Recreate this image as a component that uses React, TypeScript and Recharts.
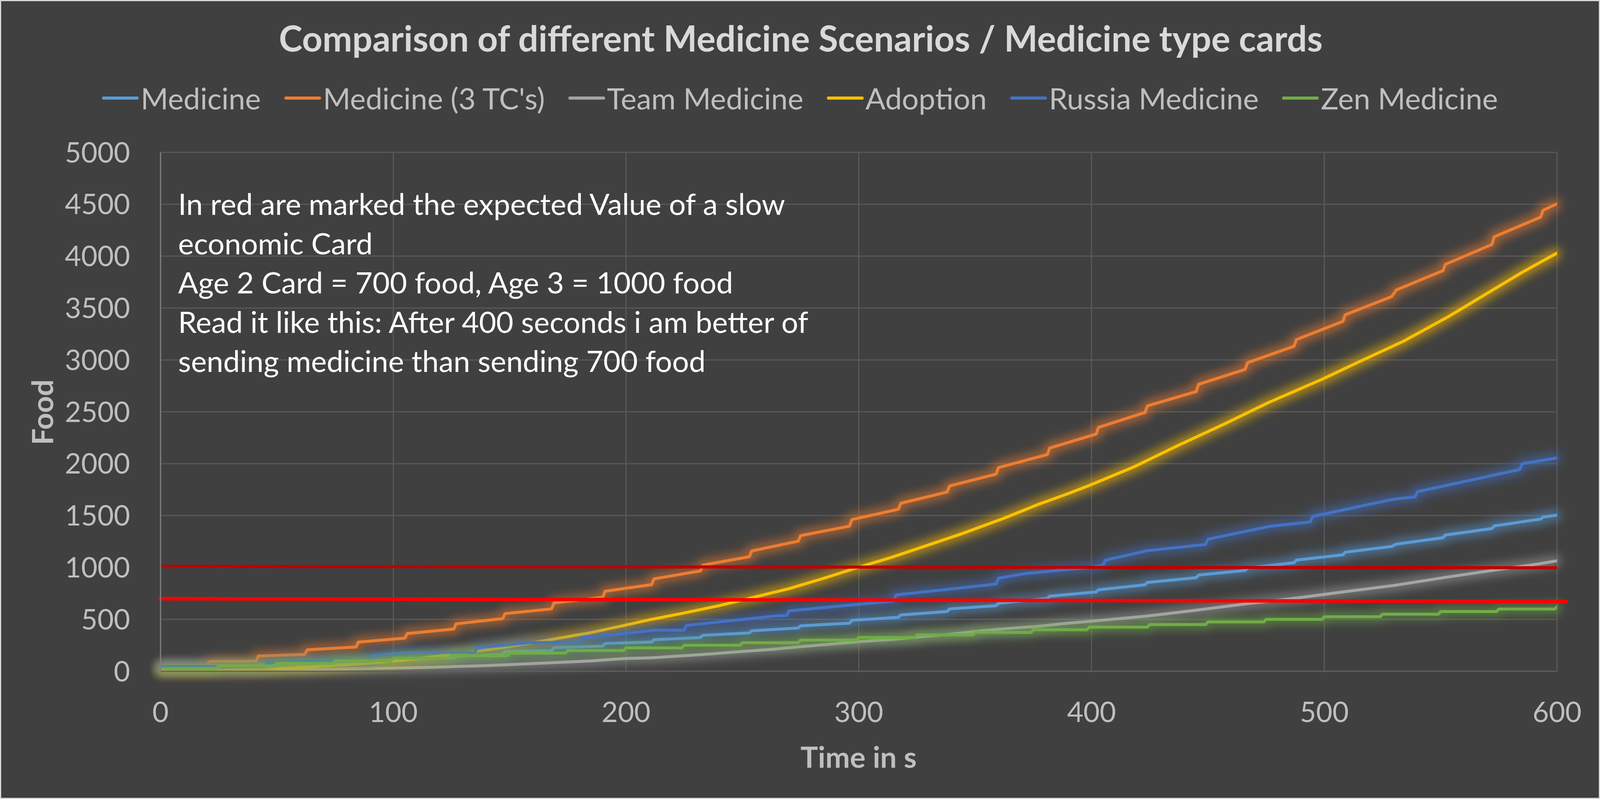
import React from 'react';
import { LineChart, Line, XAxis, YAxis, CartesianGrid, ReferenceLine } from 'recharts';

const W = 4096;
const H = 2045;

const xTicks = [0, 100, 200, 300, 400, 500, 600];
const yTicks = [0, 500, 1000, 1500, 2000, 2500, 3000, 3500, 4000, 4500, 5000];

const chartTitle = 'Comparison of different Medicine Scenarios / Medicine type cards';
const xTitle = 'Time in s';
const yTitle = 'Food';
const noteLines = [
  'In red are marked the expected Value of a slow',
  'economic Card',
  'Age 2 Card = 700 food, Age 3 = 1000 food',
  'Read it like this: After 400 seconds i am better of',
  'sending medicine than sending 700 food',
];

const seriesNames = ['Medicine', "Medicine (3 TC's)", 'Team Medicine', 'Adoption', 'Russia Medicine', 'Zen Medicine'];
const seriesColors = ['#5B9BD5', '#ED7D31', '#A5A5A5', '#FFC000', '#4472C4', '#70AD47'];

// [time in s, food]
const medicine: [number, number][] = [
  [0, 45], [20, 45], [21, 52], [41, 54], [42, 62], [62, 66], [63, 76], [84, 92], [85, 99], [105, 105],
  [106, 112], [126, 130], [127, 145], [147, 160], [148, 190], [168, 198], [169, 228], [190, 243], [191, 268],
  [211, 281], [212, 304], [232, 325], [233, 346], [253, 369], [254, 390], [274, 417], [275, 438], [296, 463],
  [297, 491], [317, 520], [318, 542], [338, 576], [339, 601], [359, 632], [360, 655], [381, 701], [382, 723],
  [402, 764], [403, 785], [423, 833], [424, 856], [445, 902], [446, 927], [466, 971], [467, 994], [487, 1046],
  [488, 1071], [508, 1122], [509, 1147], [529, 1203], [531, 1225], [551, 1287], [552, 1312], [572, 1375],
  [573, 1400], [593, 1467], [594, 1486], [600, 1504],
];

const medicine3TC: [number, number][] = [
  [0, 50], [20, 50], [21, 93], [41, 96], [42, 146], [62, 162], [63, 206], [84, 233], [85, 281], [105, 319],
  [106, 363], [126, 407], [127, 457], [147, 507], [148, 555], [168, 601], [169, 658], [190, 714], [191, 771],
  [211, 835], [212, 890], [232, 967], [233, 1022], [253, 1104], [254, 1159], [274, 1253], [275, 1307],
  [296, 1398], [297, 1461], [317, 1561], [318, 1618], [338, 1728], [339, 1785], [359, 1900], [360, 1962],
  [381, 2088], [382, 2150], [402, 2286], [403, 2350], [423, 2494], [424, 2557], [445, 2695], [446, 2765],
  [466, 2909], [467, 2973], [487, 3132], [488, 3196], [508, 3372], [509, 3435], [529, 3611], [531, 3675],
  [551, 3860], [552, 3921], [572, 4112], [573, 4186], [593, 4377], [594, 4441], [600, 4505],
];

const teamMedicine: [number, number][] = [
  [0, 0], [25, 0], [38, 6], [64, 16], [89, 26], [115, 38], [140, 55], [166, 80], [185, 100], [199, 122],
  [211, 130], [224, 149], [237, 168], [250, 191], [263, 212], [275, 237], [288, 262], [301, 287], [314, 306],
  [326, 331], [339, 356], [352, 388], [365, 413], [377, 432], [390, 463], [399, 480], [424, 532], [445, 588],
  [467, 651], [489, 708], [508, 764], [530, 827], [553, 908], [572, 971], [592, 1034], [600, 1065],
];

const adoption: [number, number][] = [
  [0, 0], [23, 5], [46, 22], [64, 42], [89, 78], [108, 116], [127, 165], [147, 228], [166, 298], [185, 372],
  [199, 440], [211, 500], [224, 557], [240, 632], [254, 708], [270, 796], [285, 896], [300, 1003], [314, 1097],
  [329, 1210], [344, 1323], [362, 1471], [377, 1607], [390, 1712], [399, 1790], [418, 1967], [437, 2174],
  [457, 2382], [476, 2589], [499, 2813], [514, 2972], [534, 3180], [553, 3413], [572, 3669], [585, 3844],
  [600, 4030],
];

const russiaMedicine: [number, number][] = [
  [0, 46], [45, 46], [46, 83], [60, 96], [74, 99], [90, 99], [91, 149], [106, 181], [135, 181], [136, 225],
  [159, 277], [180, 277], [181, 319], [200, 365], [212, 395], [225, 395], [226, 442], [265, 535], [269, 537],
  [270, 582], [315, 677], [316, 735], [359, 840], [360, 896], [371, 940], [399, 1000], [405, 1022], [406, 1071],
  [424, 1162], [449, 1222], [450, 1272], [477, 1398], [494, 1438], [495, 1492], [530, 1659], [539, 1680],
  [540, 1730], [584, 1944], [585, 1999], [600, 2056],
];

const zenMedicine: [number, number][] = [
  [0, 25], [24, 25], [25, 50], [49, 50], [50, 75], [74, 75], [75, 100], [99, 100], [100, 125], [124, 125],
  [125, 150], [149, 150], [150, 175], [174, 175], [175, 200], [199, 200], [200, 225], [224, 225], [225, 250],
  [249, 250], [250, 275], [274, 275], [275, 300], [299, 300], [300, 325], [324, 325], [325, 350], [349, 350],
  [350, 375], [374, 375], [375, 400], [398, 400], [399, 425], [424, 425], [425, 450], [449, 450], [450, 475],
  [474, 475], [475, 500], [499, 500], [500, 525], [524, 525], [525, 550], [549, 550], [550, 575], [574, 575],
  [575, 600], [599, 600], [600, 620],
];

// red marker lines (drawn shapes in the original)
const age3Line: [number, number][] = [[0, 1010], [600, 997]];
const age2Line: [number, number][] = [[-0.8, 699], [604.6, 672]];

const seriesPoints = [medicine, medicine3TC, teamMedicine, adoption, russiaMedicine, zenMedicine];

const FONT = 'Lato, "Open Sans", sans-serif';

const toRows = (pts: [number, number][]) => pts.map(([t, v]) => ({ t, v }));

export default function App() {
  const series = seriesNames.map((name, i) => ({ name, color: seriesColors[i], data: toRows(seriesPoints[i]) }));
  return (
    <div style={{ position: 'fixed', left: 0, top: 0, width: W, height: H, background: '#404040', overflow: 'hidden' }}>
      <style>{`.glow-line { filter: url(#glow); }`}</style>
      <svg width={0} height={0} style={{ position: 'absolute' }}>
        <defs>
          <filter id="glow" filterUnits="userSpaceOnUse" x={-200} y={-200} width={4600} height={2500} colorInterpolationFilters="sRGB">
            <feMorphology in="SourceGraphic" operator="dilate" radius={9} result="d" />
            <feGaussianBlur in="d" stdDeviation={12} result="b" />
            <feComponentTransfer in="b" result="g">
              <feFuncA type="linear" slope={0.55} />
            </feComponentTransfer>
            <feMerge>
              <feMergeNode in="g" />
              <feMergeNode in="SourceGraphic" />
            </feMerge>
          </filter>
        </defs>
      </svg>
      <div style={{ position: 'absolute', left: 0, top: 0 }}>
        <LineChart width={W} height={H} margin={{ top: 390, right: 110, bottom: 0, left: 0 }}>
          <CartesianGrid stroke="#595959" strokeWidth={3} />
          <XAxis
            type="number"
            dataKey="t"
            domain={[0, 600]}
            ticks={xTicks}
            allowDataOverflow
            height={327}
            tickLine={false}
            tickSize={0}
            tickMargin={79}
            axisLine={{ stroke: '#5E5E5E', strokeWidth: 3 }}
            tick={{ fill: '#BFBFBF', fontSize: 72, fontFamily: FONT }}
          />
          <YAxis
            type="number"
            domain={[0, 5000]}
            ticks={yTicks}
            allowDataOverflow
            width={411}
            tickLine={false}
            tickSize={0}
            tickMargin={78}
            axisLine={{ stroke: '#7F7F7F', strokeWidth: 3 }}
            tick={{ fill: '#BFBFBF', fontSize: 72, fontFamily: FONT }}
          />
          {series.map((s) => (
            <Line
              key={s.name}
              name={s.name}
              data={s.data}
              dataKey="v"
              type="linear"
              stroke={s.color}
              strokeWidth={7.5}
              strokeLinejoin="round"
              strokeLinecap="round"
              dot={false}
              activeDot={false}
              className="glow-line"
              isAnimationActive={false}
            />
          ))}
          <ReferenceLine
            segment={age3Line.map(([x, y]) => ({ x, y }))}
            stroke="#C00000"
            strokeWidth={8}
            ifOverflow="visible"
          />
          <ReferenceLine
            segment={age2Line.map(([x, y]) => ({ x, y }))}
            stroke="#FF0000"
            strokeWidth={9}
            ifOverflow="visible"
          />
        </LineChart>
      </div>
      <svg width={W} height={H} style={{ position: 'absolute', left: 0, top: 0, pointerEvents: 'none' }}>
        <text x={2050} y={132} textAnchor="middle" fill="#D9D9D9" fontFamily={FONT} fontWeight="bold" fontSize={91}>
          {chartTitle}
        </text>
        <text x={2198} y={1965} textAnchor="middle" fill="#BFBFBF" fontFamily={FONT} fontWeight="bold" fontSize={75}>
          {xTitle}
        </text>
        <text x={136} y={1055} textAnchor="middle" fill="#BFBFBF" fontFamily={FONT} fontWeight="bold" fontSize={75} transform="rotate(-90 136 1055)">
          {yTitle}
        </text>
        {noteLines.map((line, i) => (
          <text key={i} x={456} y={550 + i * 100.5} fill="#FFFFFF" fontFamily={FONT} fontSize={76}>
            {line}
          </text>
        ))}
      </svg>
      <div
        style={{
          position: 'absolute', left: 0, top: 216, width: W, height: 70, display: 'flex',
          justifyContent: 'center', alignItems: 'center', fontFamily: FONT, fontSize: 76, color: '#BFBFBF',
        }}
      >
        {series.map((s, i) => (
          <div key={s.name} style={{ display: 'flex', alignItems: 'center', marginLeft: i === 0 ? 0 : 60, lineHeight: 1, whiteSpace: 'pre' }}>
            <span style={{ display: 'inline-block', width: 94, height: 8, borderRadius: 4, background: s.color, marginRight: 5 }} />
            <span>{s.name}</span>
          </div>
        ))}
      </div>
      <div style={{ position: 'absolute', left: 0, top: 0, width: W, height: H, boxSizing: 'border-box', border: '3px solid #D9D9D9', pointerEvents: 'none' }} />
    </div>
  );
}
